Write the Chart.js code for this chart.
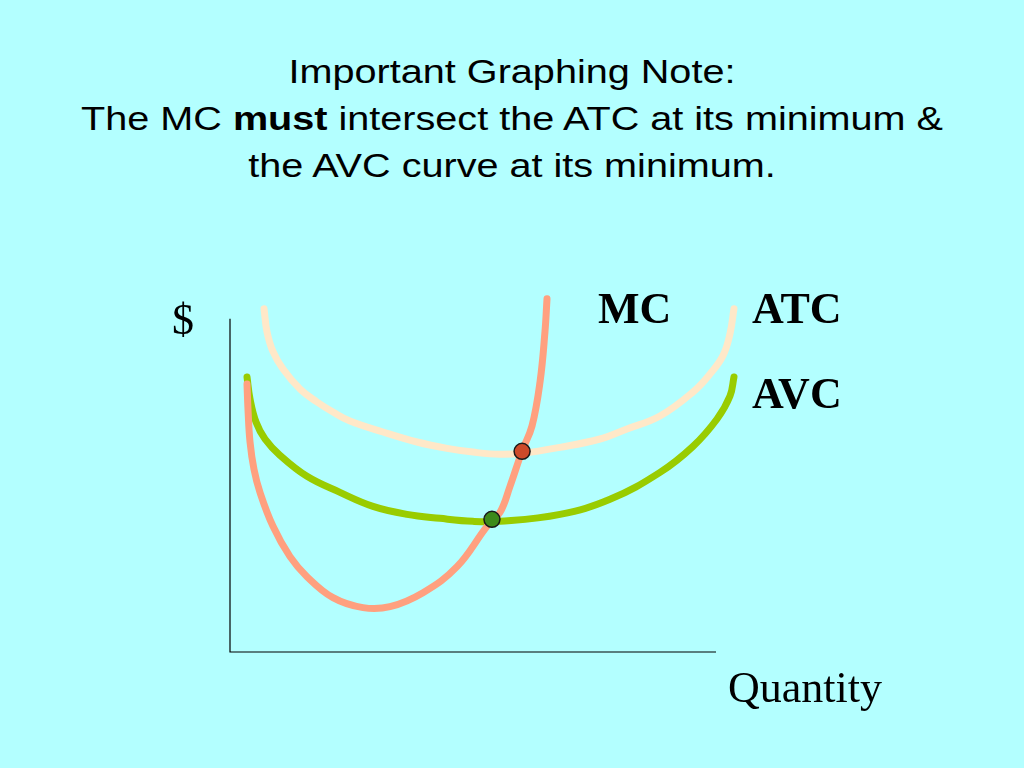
<!DOCTYPE html>
<html>
<head>
<meta charset="utf-8">
<script src="https://cdn.jsdelivr.net/npm/chart.js@4.4.0/dist/chart.umd.min.js"></script>
<style>
  html, body { margin: 0; padding: 0; background: #b3ffff; }
  #wrap { position: relative; width: 1024px; height: 768px; overflow: hidden; }
  #titulo {
    position: absolute; left: 0; top: 48px; width: 1024px;
    text-align: center; font-family: "Liberation Sans", Arial, sans-serif;
    font-size: 33px; line-height: 47px; color: #000;
    transform: scaleX(1.2); transform-origin: 512px 0;
  }
  canvas { position: absolute; left: 0; top: 0; }
</style>
</head>
<body>
<div id="wrap">
  <div id="titulo">Important Graphing Note:<br>The MC <b>must</b> intersect the ATC at its minimum &amp;<br>the AVC curve at its minimum.</div>
  <canvas id="grafica" width="1024" height="768"></canvas>
</div>
<script>
// Cantidad (eje x, 0-100) y $ (eje y, 0-100)
const atcX = [7.0, 7.61, 8.85, 10.91, 14.4, 17.9, 21.19, 24.69, 31.48, 38.48, 44.65, 50.41, 55.56, 60.08, 67.9, 76.13, 81.69, 88.48, 95.27, 98.77, 101.44, 102.88, 103.7];
const atcY = [103.0, 96.1, 90.1, 84.9, 78.9, 75.0, 72.0, 69.3, 66.0, 63.0, 61.1, 59.9, 59.3, 59.6, 61.4, 63.9, 66.9, 70.8, 78.0, 83.4, 88.9, 95.5, 103.0];

const avcX = [3.5, 4.12, 5.35, 7.2, 10.29, 15.84, 22.63, 29.42, 36.42, 43.21, 50.0, 55.56, 67.9, 78.19, 88.48, 95.27, 100.21, 102.88, 103.7];
const avcY = [82.5, 75.9, 69.0, 63.9, 59.0, 52.7, 47.9, 43.7, 41.3, 40.1, 39.2, 39.2, 41.3, 45.8, 53.9, 61.7, 69.9, 76.8, 82.5];

const mcX = [3.5, 3.7, 4.12, 4.94, 6.17, 8.85, 12.35, 15.84, 21.19, 27.37, 32.92, 39.71, 46.71, 52.88, 55.56, 57.61, 60.08, 62.14, 63.79, 64.81, 65.23];
const mcY = [80.4, 72.9, 63.0, 54.8, 47.9, 37.7, 28.6, 22.6, 16.3, 13.3, 13.6, 17.8, 25.6, 37.7, 41.9, 49.7, 60.2, 67.8, 81.0, 96.1, 106.0];

// puntos de intersección
const puntoATC = { x: 60.1, y: 60.2 };
const puntoAVC = { x: 53.9, y: 39.8 };

const etiquetas = ['MC', 'ATC', 'AVC'];

function aPuntos(xs, ys) {
  return xs.map((x, i) => ({ x: x, y: ys[i] }));
}

// dibuja ejes y textos sobre el lienzo
const ejesYTextos = {
  id: 'ejesYTextos',
  afterDatasetsDraw(chart) {
    const ctx = chart.ctx;
    const sx = chart.scales.x, sy = chart.scales.y;
    const x0 = sx.getPixelForValue(0), y0 = sy.getPixelForValue(0);
    const yTop = sy.getPixelForValue(100), xEnd = sx.getPixelForValue(100);
    ctx.save();
    ctx.strokeStyle = '#000';
    ctx.lineWidth = 1.2;
    ctx.beginPath();
    ctx.moveTo(x0, yTop);
    ctx.lineTo(x0, y0);
    ctx.lineTo(xEnd, y0);
    ctx.stroke();

    ctx.fillStyle = '#000';
    ctx.textBaseline = 'alphabetic';
    ctx.font = 'bold 44px "Liberation Serif", "Times New Roman", serif';
    ctx.fillText(etiquetas[0], 598, 323);
    ctx.fillText(etiquetas[1], 752, 323);
    ctx.fillText(etiquetas[2], 752, 408);
    ctx.font = '44px "Liberation Serif", "Times New Roman", serif';
    ctx.fillText('$', 172, 334);
    ctx.fillText('Quantity', 728, 702);
    ctx.restore();
  }
};

const lineaBase = {
  type: 'line',
  fill: false,
  clip: false,
  pointRadius: 0,
  borderWidth: 7,
  borderCapStyle: 'round',
  borderJoinStyle: 'round',
  tension: 0.4
};

new Chart(document.getElementById('grafica'), {
  type: 'scatter',
  data: {
    datasets: [
      { type: 'scatter', label: 'ATC min', data: [puntoATC], order: 0, clip: false,
        pointRadius: 8, backgroundColor: '#cc4a2a', borderColor: '#1a1a1a', borderWidth: 1.5 },
      { type: 'scatter', label: 'AVC min', data: [puntoAVC], order: 0, clip: false,
        pointRadius: 8, backgroundColor: '#3d8a1a', borderColor: '#1a1a1a', borderWidth: 1.5 },
      Object.assign({}, lineaBase, { label: 'MC', data: aPuntos(mcX, mcY), borderColor: '#ffa07f', order: 1 }),
      Object.assign({}, lineaBase, { label: 'AVC', data: aPuntos(avcX, avcY), borderColor: '#99cc00', order: 2 }),
      Object.assign({}, lineaBase, { label: 'ATC', data: aPuntos(atcX, atcY), borderColor: '#ffe8c8', order: 3 })
    ]
  },
  options: {
    responsive: false,
    animation: false,
    // el eje x llega a 106 para que las curvas no se corten a la derecha
    layout: { padding: { left: 230, right: 278.84, top: 293, bottom: 116 } },
    plugins: { legend: { display: false }, title: { display: false }, tooltip: { enabled: false } },
    scales: {
      x: { type: 'linear', min: 0, max: 106, display: false },
      y: { type: 'linear', min: 0, max: 107.7, display: false }
    }
  },
  plugins: [ejesYTextos]
});
</script>
</body>
</html>
